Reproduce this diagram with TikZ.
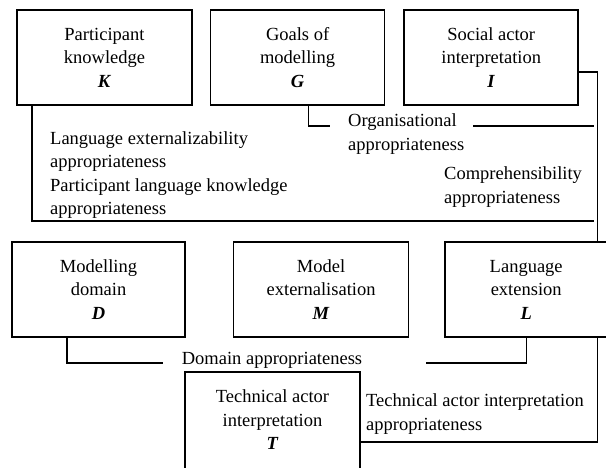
\documentclass[tikz,border=0pt]{standalone}
\usepackage{fontspec}
\setmainfont{Liberation Serif}
\usepackage{tikz}
\usetikzlibrary{positioning}
\tikzstyle{concept}=[rectangle, draw=black, line width=1.6pt, align=center,
        minimum width=174pt, minimum height=95pt, font=\fontsize{18.5}{23.5}\selectfont]
\tikzstyle{quality}=[align=left, inner sep=0pt, font=\fontsize{18.5}{23.5}\selectfont]
\tikzstyle{link}=[line width=1.3pt]
\begin{document}
\begin{tikzpicture}[x=1pt, y=-1pt]
	\useasboundingbox (0,0) rectangle (606,467);

	\node (Knowledge) [concept, minimum width=175pt] at (104.5,57.5)
        {Participant\\knowledge\\\textbf{\textit{K}}};
	\node (Goals) [concept, right=17pt of Knowledge]
        {Goals of\\modelling\\\textbf{\textit{G}}};
	\node (SocialActor) [concept, right=18pt of Goals]
        {Social actor\\interpretation\\\textbf{\textit{I}}};

	\node (Domain) [concept, minimum width=173pt] at (98.5,289.5)
        {Modelling\\domain\\\textbf{\textit{D}}};
	\node (Model) [concept, minimum width=175pt, right=47pt of Domain]
        {Model\\externalisation\\\textbf{\textit{M}}};
	\node (Language) [concept, minimum width=162pt, right=35pt of Model]
        {Language\\extension\\\textbf{\textit{L}}};

	\node (TechActor) [concept, draw=none, minimum width=173pt, minimum height=94pt] at (272.5,420)
        {Technical actor\\interpretation\\\textbf{\textit{T}}};
	\draw[line width=1.6pt] (TechActor.south west) -- (TechActor.north west)
        -- (TechActor.north east) -- (TechActor.south east);

\node (OrgLabel) [quality, anchor=west] at (348,134) {Organisational\\appropriateness};
\node (ExtLabel) [quality, anchor=west] at (50,175)
	{Language externalizability\\appropriateness\\Participant language knowledge\\appropriateness};
\node (CompLabel) [quality, anchor=west] at (444,187) {Comprehensibility\\appropriateness};
\node (DomLabel) [quality] at (272,360) {Domain appropriateness};
\node (TechLabel) [quality, anchor=west] at (366,414) {Technical actor interpretation\\appropriateness};

\coordinate (OrgIn) at (330,126);
\coordinate (OrgOut) at (473,126);
\coordinate (BusOrg) at (594,126);
\coordinate (BusExt) at (594,221);
\coordinate (DomIn) at (163,363);
\coordinate (DomOut) at (426,363);

\draw[link] ([yshift=-14.5pt]SocialActor.east) -| ([xshift=71pt]Language.north);
\draw[link] ([xshift=-72.5pt]Knowledge.south) |- (BusExt);
\draw[link] ([xshift=11pt]Goals.south) |- (OrgIn);
\draw[link] (OrgOut) -- (BusOrg);
\draw[link] ([xshift=-31.5pt]Domain.south) |- (DomIn);
\draw[link] (DomOut) -| (Language.south);
\draw[link] ([xshift=71pt]Language.south) |- ([yshift=-22pt]TechActor.east);
\end{tikzpicture}
\end{document}
